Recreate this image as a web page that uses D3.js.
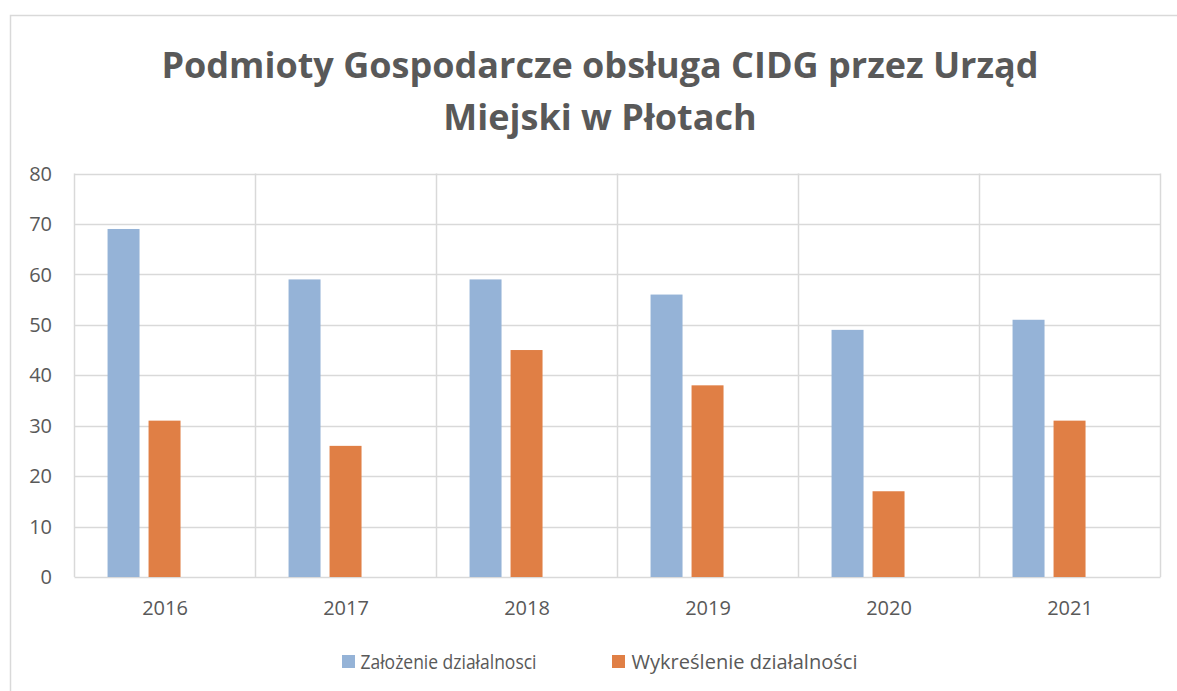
<!DOCTYPE html>
<html>
<head>
<meta charset="utf-8">
<script src="https://cdn.jsdelivr.net/npm/d3@7"></script>
<style>
  body { margin: 0; background: #fff; }
  text { font-family: "Open Sans", sans-serif; fill: #595959; }
</style>
</head>
<body>
<svg width="1177" height="691"></svg>
<script>
// data
const years = ['2016', '2017', '2018', '2019', '2020', '2021'];
const seriesNames = ['Założenie działalnosci', 'Wykreślenie działalności'];
const zalozenie = [69, 59, 59, 56, 49, 51];
const wykreslenie = [31, 26, 45, 38, 17, 31];
const yTicks = [0, 10, 20, 30, 40, 50, 60, 70, 80];
const colors = ['#95b3d7', '#e07f45'];
const titleLines = ['Podmioty Gospodarcze obsługa CIDG przez Urząd', 'Miejski w Płotach'];

const rows = years.map((y, i) => ({year: y, values: [zalozenie[i], wykreslenie[i]]}));

const svg = d3.select('svg');

// outer chart border (runs off the bottom/right of the picture)
svg.append('rect')
  .attr('x', 10.5).attr('y', 15.5)
  .attr('width', 1180).attr('height', 700)
  .attr('fill', 'none').attr('stroke', '#d9d9d9').attr('stroke-width', 1.5);

// title
svg.append('g').selectAll('text')
  .data(titleLines)
  .join('text')
  .attr('x', 600).attr('y', (d, i) => 78 + i * 52)
  .attr('text-anchor', 'middle')
  .style('font-size', '36px').style('font-weight', 'bold')
  .text(d => d);

const plot = {left: 74.5, right: 1160.5, top: 173.5, bottom: 577};

const x = d3.scaleBand().domain(years).range([plot.left, plot.right]);
// two bars per year, sitting left of centre like the original
const xInner = d3.scaleBand().domain([0, 1])
  .range([0, x.bandwidth()])
  .paddingInner(0.22).paddingOuter(1.3175).align(0.306);
const y = d3.scaleLinear().domain([0, 80]).range([plot.bottom, plot.top]);

// horizontal gridlines
svg.append('g').selectAll('line')
  .data(yTicks)
  .join('line')
  .attr('x1', plot.left).attr('x2', plot.right)
  .attr('y1', d => Math.round(y(d)) + 0.5).attr('y2', d => Math.round(y(d)) + 0.5)
  .attr('stroke', '#d9d9d9').attr('stroke-width', 1.5);

// vertical gridlines at category boundaries
svg.append('g').selectAll('line')
  .data(years.concat(['end']))
  .join('line')
  .attr('x1', d => d === 'end' ? plot.right : x(d))
  .attr('x2', d => d === 'end' ? plot.right : x(d))
  .attr('y1', plot.top).attr('y2', plot.bottom)
  .attr('stroke', '#d9d9d9').attr('stroke-width', 1.5);

// bars
svg.append('g').selectAll('g')
  .data(rows)
  .join('g')
  .attr('transform', d => `translate(${x(d.year)},0)`)
  .selectAll('rect')
  .data(d => d.values)
  .join('rect')
  .attr('x', (d, i) => xInner(i))
  .attr('width', xInner.bandwidth())
  .attr('y', d => y(d))
  .attr('height', d => y(0) - y(d))
  .attr('fill', (d, i) => colors[i]);

// y tick labels
svg.append('g').selectAll('text')
  .data(yTicks)
  .join('text')
  .attr('x', 52).attr('y', d => y(d))
  .attr('dy', '0.36em')
  .attr('text-anchor', 'end')
  .style('font-size', '20px')
  .text(d => d);

// x tick labels
svg.append('g').selectAll('text')
  .data(years)
  .join('text')
  .attr('x', d => x(d) + x.bandwidth() / 2)
  .attr('y', 615)
  .attr('text-anchor', 'middle')
  .style('font-size', '20px')
  .text(d => d);

// legend (original font is narrower, so squeeze the text a little)
const legendX = [342, 612];
const legendLen = [176, 226];
const legend = svg.append('g').selectAll('g')
  .data(seriesNames)
  .join('g')
  .attr('transform', (d, i) => `translate(${legendX[i]},661.5)`);
legend.append('rect')
  .attr('x', 0).attr('y', -6.5).attr('width', 13).attr('height', 13)
  .attr('fill', (d, i) => colors[i]);
legend.append('text')
  .attr('x', (d, i) => i === 0 ? 18.5 : 19.5).attr('y', 0).attr('dy', '0.36em')
  .attr('textLength', (d, i) => legendLen[i])
  .attr('lengthAdjust', 'spacingAndGlyphs')
  .style('font-size', '20.5px')
  .text(d => d);
</script>
</body>
</html>
